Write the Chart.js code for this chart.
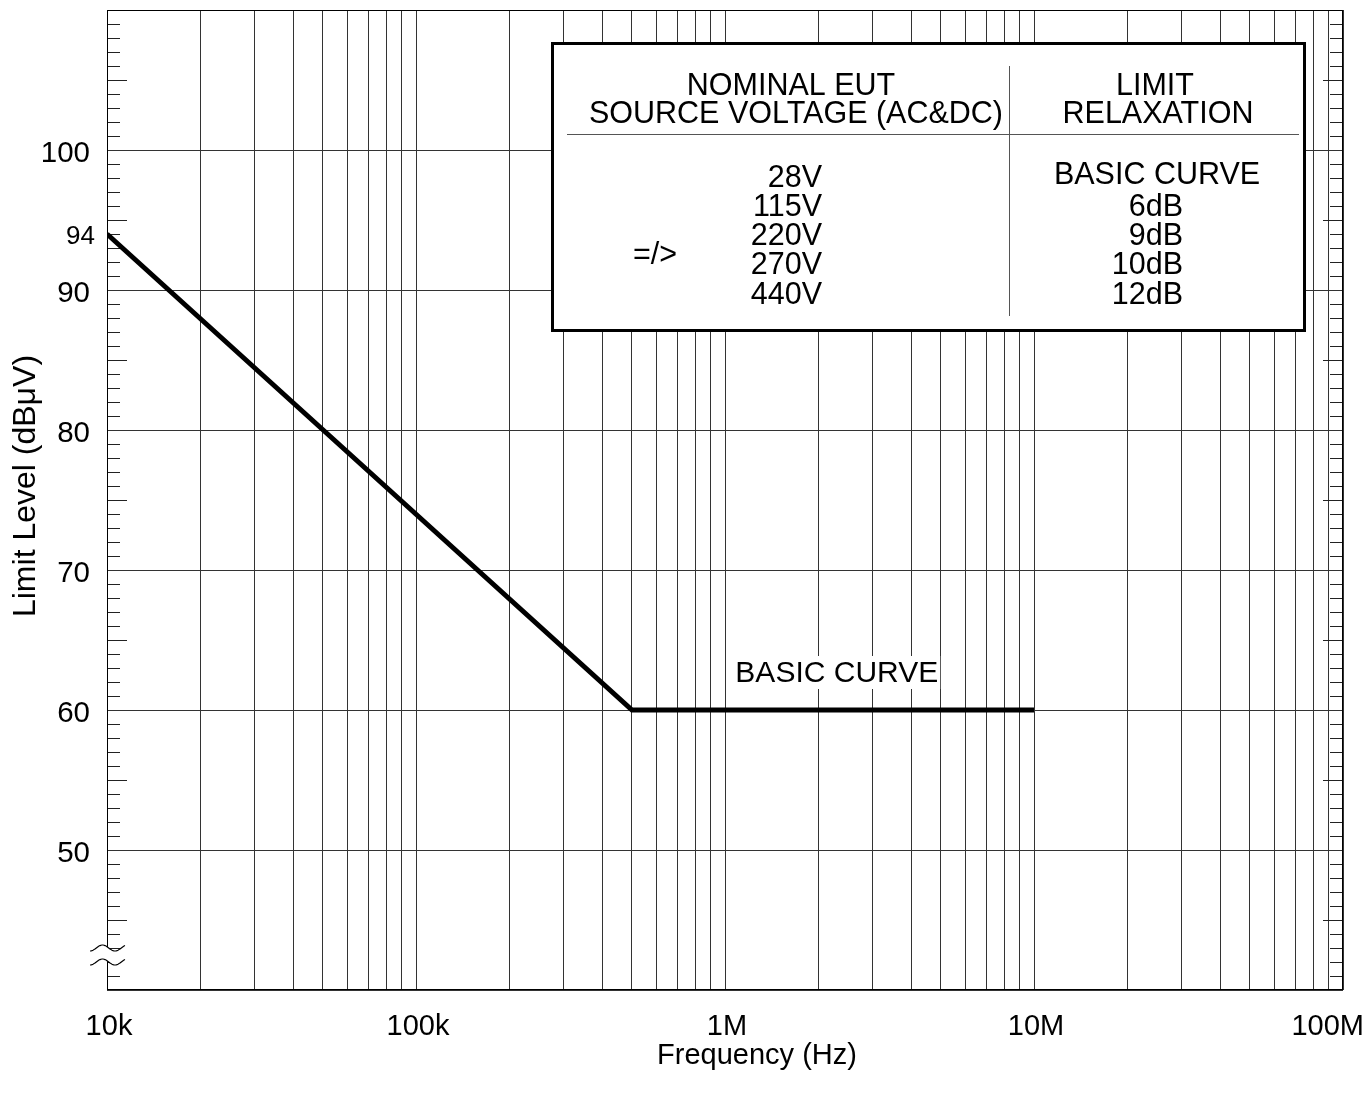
<!DOCTYPE html>
<html>
<head>
<meta charset="utf-8">
<title>Limit Level vs Frequency</title>
<script src="https://cdn.jsdelivr.net/npm/chart.js@4.4.0/dist/chart.umd.min.js"></script>
<style>
  html, body { margin: 0; padding: 0; background: #fff; }
  canvas { display: block; }
</style>
</head>
<body>
<canvas id="limitChart" width="1369" height="1095"></canvas>
<script>
// ── Data ──────────
const freqHz = [1e4, 5e5, 1e7];
const limitDb = [94, 60, 60];

const decadeValues = [1e4, 1e5, 1e6, 1e7, 1e8];
const decadeLabels = ['10k', '100k', '1M', '10M', '100M'];
const gridMultipliers = [1, 2, 3, 4, 5, 6, 7, 8, 9];

const yGridLevels = [40, 50, 60, 70, 80, 90, 100, 110];
const yTickLabels = [50, 60, 70, 80, 90, 100];
const yExtraLabel = 94;

const voltages = ['28V', '115V', '220V', '270V', '440V'];
const relaxations = ['BASIC CURVE', '6dB', '9dB', '10dB', '12dB'];

const FONT = '"Liberation Sans", Arial, Helvetica, sans-serif';

// log grid positions: 1..9 x each decade, plus the last decade
const xGridValues = [];
decadeValues.slice(0, -1).forEach(d => gridMultipliers.forEach(m => xGridValues.push(m * d)));
xGridValues.push(decadeValues[decadeValues.length - 1]);

// ── Extra drawing: inner ticks, frame, legend table, labels ──────────
const extras = {
    id: 'extras',
    beforeDatasetsDraw(chart) {
        const { ctx, chartArea: a, scales: { y } } = chart;
        ctx.save();
        ctx.strokeStyle = '#222';
        ctx.lineWidth = 1;
        for (let v = y.min + 1; v < y.max; v++) {
            if (v % 10 === 0) continue;
            const py = Math.round(y.getPixelForValue(v)) + 0.5;
            const len = v % 5 === 0 ? 20 : 13;
            ctx.beginPath();
            ctx.moveTo(a.left, py); ctx.lineTo(a.left + len, py);
            ctx.moveTo(a.right, py); ctx.lineTo(a.right - len, py);
            ctx.stroke();
        }
        ctx.strokeStyle = '#000';
        ctx.strokeRect(a.left + 0.5, a.top + 0.5, a.right - a.left - 1, a.bottom - a.top - 1);
        ctx.restore();
    },
    afterDatasetsDraw(chart) {
        const { ctx, scales: { x, y } } = chart;
        ctx.save();

        // curve annotation
        ctx.font = `30px ${FONT}`;
        ctx.textBaseline = 'alphabetic';
        const lx = x.getPixelForValue(2.3e6), ly = y.getPixelForValue(62.0);
        const lw = ctx.measureText('BASIC CURVE').width;
        ctx.fillStyle = '#fff';
        ctx.fillRect(lx - lw / 2 - 2, ly - 26, lw + 4, 33);
        ctx.fillStyle = '#000';
        ctx.textAlign = 'center';
        ctx.fillText('BASIC CURVE', lx, ly);

        // legend table
        ctx.fillStyle = '#fff';
        ctx.fillRect(551, 42, 755, 290);
        ctx.strokeStyle = '#000';
        ctx.lineWidth = 3;
        ctx.strokeRect(552.5, 43.5, 752, 287);
        ctx.lineWidth = 1;
        ctx.strokeStyle = '#555';
        ctx.beginPath();
        ctx.moveTo(567, 134.5); ctx.lineTo(1299, 134.5);
        ctx.moveTo(1009.5, 66); ctx.lineTo(1009.5, 316);
        ctx.stroke();

        ctx.fillStyle = '#000';
        ctx.font = `30.5px ${FONT}`;
        ctx.textAlign = 'center';
        ctx.fillText('NOMINAL EUT', 791, 95);
        ctx.fillText('SOURCE VOLTAGE (AC&DC)', 796, 123);
        ctx.fillText('LIMIT', 1155, 95);
        ctx.fillText('RELAXATION', 1158, 123);
        ctx.fillText('=/>', 655, 264);
        voltages.forEach((v, i) => {
            const ry = 186.5 + i * 29.3;
            ctx.textAlign = 'right';
            ctx.fillText(v, 822, ry);
            if (i === 0) {
                ctx.textAlign = 'center';
                ctx.fillText(relaxations[i], 1157, ry - 3);
            } else {
                ctx.textAlign = 'right';
                ctx.fillText(relaxations[i], 1183, ry);
            }
        });
        ctx.restore();
    },
    afterDraw(chart) {
        const { ctx, chartArea: a, scales: { x, y } } = chart;
        ctx.save();

        // axis break symbol
        const yc = y.getPixelForValue(42.5);
        const wave = (cy, dir) => {
            const pts = [];
            for (let i = 0; i <= 35; i++) pts.push([90 + i, cy + 3 * Math.cos(2 * Math.PI * i / 25)]);
            return dir > 0 ? pts : pts.reverse();
        };
        const up = wave(yc - 7, 1), lo = wave(yc + 7, -1);
        ctx.fillStyle = '#fff';
        ctx.beginPath();
        up.concat(lo).forEach(([px, py], i) => i ? ctx.lineTo(px, py) : ctx.moveTo(px, py));
        ctx.closePath();
        ctx.fill();
        ctx.strokeStyle = '#000';
        ctx.lineWidth = 1.2;
        [up, lo].forEach(pts => {
            ctx.beginPath();
            pts.forEach(([px, py], i) => i ? ctx.lineTo(px, py) : ctx.moveTo(px, py));
            ctx.stroke();
        });

        // x tick labels, last one kept inside the canvas
        ctx.fillStyle = '#000';
        ctx.font = `29px ${FONT}`;
        ctx.textAlign = 'center';
        ctx.textBaseline = 'alphabetic';
        decadeValues.forEach((v, i) => {
            const w = ctx.measureText(decadeLabels[i]).width;
            const cx = Math.min(x.getPixelForValue(v) + 2, chart.width - 5 - w / 2);
            ctx.fillText(decadeLabels[i], cx, a.bottom + 45);
        });

        // extra 94 label
        ctx.font = `26px ${FONT}`;
        ctx.textAlign = 'right';
        ctx.textBaseline = 'middle';
        ctx.fillText(String(yExtraLabel), a.left - 12, y.getPixelForValue(yExtraLabel) + 3);

        // axis titles
        ctx.font = `29px ${FONT}`;
        ctx.textAlign = 'center';
        ctx.textBaseline = 'alphabetic';
        ctx.fillText('Frequency (Hz)', 757, 1064);
        ctx.translate(35, 486);
        ctx.rotate(-Math.PI / 2);
        ctx.font = `32px ${FONT}`;
        ctx.fillText('Limit Level (dB\u03BCV)', 0, 0);
        ctx.restore();
    }
};

new Chart(document.getElementById('limitChart'), {
    type: 'line',
    data: {
        datasets: [{
            data: freqHz.map((f, i) => ({ x: f, y: limitDb[i] })),
            borderColor: '#000',
            borderWidth: 5,
            borderJoinStyle: 'miter',
            pointRadius: 0,
            tension: 0,
            fill: false
        }]
    },
    options: {
        responsive: false,
        animation: false,
        layout: { padding: { top: 10, right: 26, left: 0, bottom: 0 } },
        plugins: { legend: { display: false }, tooltip: { enabled: false } },
        scales: {
            x: {
                type: 'logarithmic',
                min: decadeValues[0],
                max: decadeValues[decadeValues.length - 1],
                afterBuildTicks: s => { s.ticks = xGridValues.map(v => ({ value: v })); },
                afterFit: s => { s.height = 105; s.paddingLeft = 0; s.paddingRight = 0; },
                grid: { color: '#333', lineWidth: 1, drawTicks: false },
                border: { display: false },
                ticks: { display: false, autoSkip: false }
            },
            y: {
                min: yGridLevels[0],
                max: yGridLevels[yGridLevels.length - 1],
                afterBuildTicks: s => { s.ticks = yGridLevels.map(v => ({ value: v })); },
                afterFit: s => { s.width = 107; s.paddingTop = 0; s.paddingBottom = 0; },
                grid: { color: '#333', lineWidth: 1, drawTicks: false },
                border: { display: false },
                ticks: {
                    autoSkip: false,
                    padding: 17,
                    labelOffset: 4,
                    color: '#000',
                    font: { family: FONT, size: 29.5 },
                    callback: v => yTickLabels.includes(v) ? String(v) : ''
                }
            }
        }
    },
    plugins: [extras]
});
</script>
</body>
</html>
